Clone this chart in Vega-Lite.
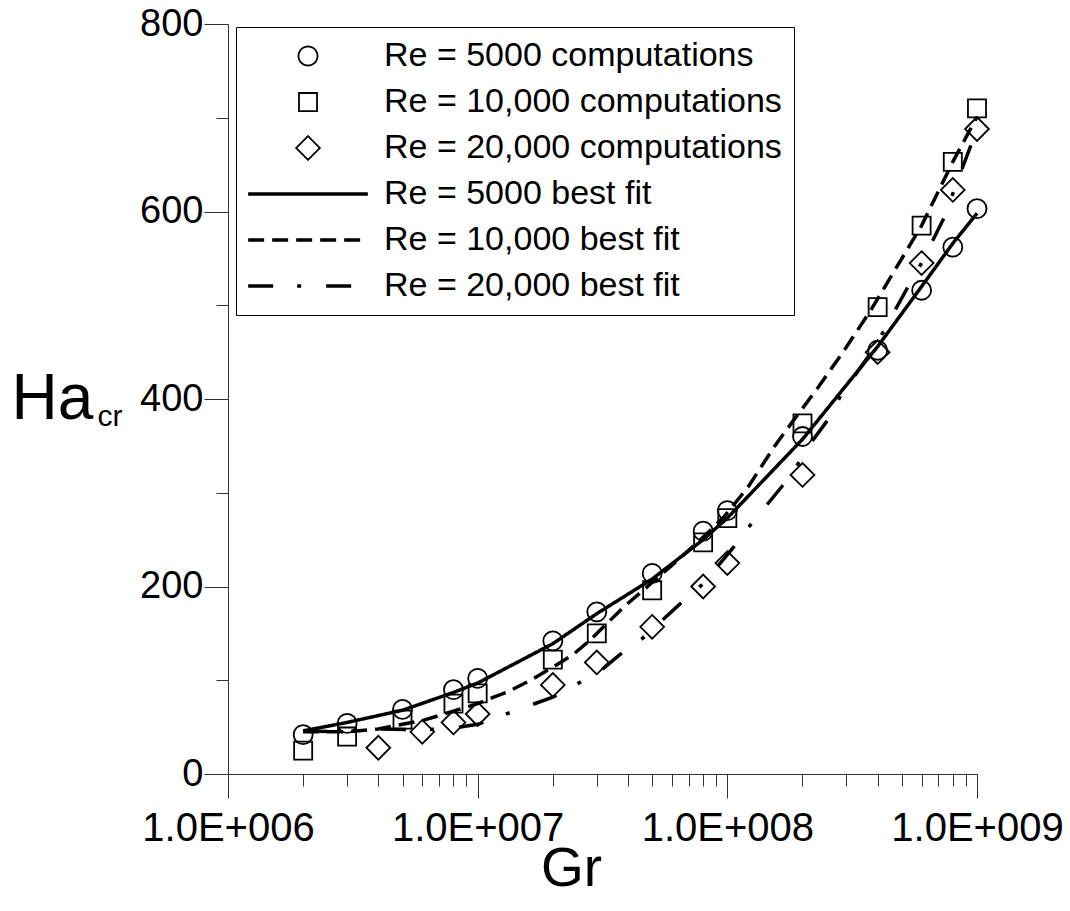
{
  "$schema": "https://vega.github.io/schema/vega-lite/v6.json",
  "width": 749,
  "height": 750,
  "autosize": {"type": "none"},
  "padding": {"left": 228, "top": 24, "right": 93, "bottom": 137},
  "background": "white",
  "config": {
    "view": {"stroke": null},
    "font": "Liberation Sans",
    "legend": {
      "padding": 12,
      "strokeColor": "black",
      "strokeWidth": 1,
      "fillColor": "white",
      "symbolSize": 361,
      "symbolOffset": 43,
      "labelOffset": 59,
      "labelFontSize": 34,
      "labelFont": "Liberation Sans",
      "labelColor": "black",
      "rowPadding": 12,
      "labelLimit": 800,
      "symbolLimit": 10
    }
  },
  "data": {
    "values": [
      {"Gr": 2000000, "Ha": 42, "series": "Re = 5000 computations", "kind": "comp"},
      {"Gr": 3000000, "Ha": 54, "series": "Re = 5000 computations", "kind": "comp"},
      {"Gr": 5000000, "Ha": 69, "series": "Re = 5000 computations", "kind": "comp"},
      {"Gr": 8000000, "Ha": 90, "series": "Re = 5000 computations", "kind": "comp"},
      {"Gr": 10000000, "Ha": 102, "series": "Re = 5000 computations", "kind": "comp"},
      {"Gr": 20000000, "Ha": 142, "series": "Re = 5000 computations", "kind": "comp"},
      {"Gr": 30000000, "Ha": 173, "series": "Re = 5000 computations", "kind": "comp"},
      {"Gr": 50000000, "Ha": 214, "series": "Re = 5000 computations", "kind": "comp"},
      {"Gr": 80000000, "Ha": 259, "series": "Re = 5000 computations", "kind": "comp"},
      {"Gr": 100000000, "Ha": 281, "series": "Re = 5000 computations", "kind": "comp"},
      {"Gr": 200000000, "Ha": 360, "series": "Re = 5000 computations", "kind": "comp"},
      {"Gr": 400000000, "Ha": 452, "series": "Re = 5000 computations", "kind": "comp"},
      {"Gr": 600000000, "Ha": 516, "series": "Re = 5000 computations", "kind": "comp"},
      {"Gr": 800000000, "Ha": 562, "series": "Re = 5000 computations", "kind": "comp"},
      {"Gr": 1000000000, "Ha": 603, "series": "Re = 5000 computations", "kind": "comp"},

      {"Gr": 2000000, "Ha": 25, "series": "Re = 10,000 computations", "kind": "comp"},
      {"Gr": 3000000, "Ha": 40, "series": "Re = 10,000 computations", "kind": "comp"},
      {"Gr": 5000000, "Ha": 58, "series": "Re = 10,000 computations", "kind": "comp"},
      {"Gr": 8000000, "Ha": 75, "series": "Re = 10,000 computations", "kind": "comp"},
      {"Gr": 10000000, "Ha": 86, "series": "Re = 10,000 computations", "kind": "comp"},
      {"Gr": 20000000, "Ha": 122, "series": "Re = 10,000 computations", "kind": "comp"},
      {"Gr": 30000000, "Ha": 150, "series": "Re = 10,000 computations", "kind": "comp"},
      {"Gr": 50000000, "Ha": 196, "series": "Re = 10,000 computations", "kind": "comp"},
      {"Gr": 80000000, "Ha": 247, "series": "Re = 10,000 computations", "kind": "comp"},
      {"Gr": 100000000, "Ha": 273, "series": "Re = 10,000 computations", "kind": "comp"},
      {"Gr": 200000000, "Ha": 374, "series": "Re = 10,000 computations", "kind": "comp"},
      {"Gr": 400000000, "Ha": 498, "series": "Re = 10,000 computations", "kind": "comp"},
      {"Gr": 600000000, "Ha": 585, "series": "Re = 10,000 computations", "kind": "comp"},
      {"Gr": 800000000, "Ha": 653, "series": "Re = 10,000 computations", "kind": "comp"},
      {"Gr": 1000000000, "Ha": 710, "series": "Re = 10,000 computations", "kind": "comp"},

      {"Gr": 4000000, "Ha": 28, "series": "Re = 20,000 computations", "kind": "comp"},
      {"Gr": 6000000, "Ha": 45, "series": "Re = 20,000 computations", "kind": "comp"},
      {"Gr": 8000000, "Ha": 55, "series": "Re = 20,000 computations", "kind": "comp"},
      {"Gr": 10000000, "Ha": 64, "series": "Re = 20,000 computations", "kind": "comp"},
      {"Gr": 20000000, "Ha": 95, "series": "Re = 20,000 computations", "kind": "comp"},
      {"Gr": 30000000, "Ha": 119, "series": "Re = 20,000 computations", "kind": "comp"},
      {"Gr": 50000000, "Ha": 157, "series": "Re = 20,000 computations", "kind": "comp"},
      {"Gr": 80000000, "Ha": 200, "series": "Re = 20,000 computations", "kind": "comp"},
      {"Gr": 100000000, "Ha": 225, "series": "Re = 20,000 computations", "kind": "comp"},
      {"Gr": 200000000, "Ha": 319, "series": "Re = 20,000 computations", "kind": "comp"},
      {"Gr": 400000000, "Ha": 450, "series": "Re = 20,000 computations", "kind": "comp"},
      {"Gr": 600000000, "Ha": 545, "series": "Re = 20,000 computations", "kind": "comp"},
      {"Gr": 800000000, "Ha": 623, "series": "Re = 20,000 computations", "kind": "comp"},
      {"Gr": 1000000000, "Ha": 688, "series": "Re = 20,000 computations", "kind": "comp"},

      {"Gr": 2000000, "Ha": 46, "series": "Re = 5000 best fit", "kind": "fit"},
      {"Gr": 3000000, "Ha": 55, "series": "Re = 5000 best fit", "kind": "fit"},
      {"Gr": 5000000, "Ha": 68, "series": "Re = 5000 best fit", "kind": "fit"},
      {"Gr": 8000000, "Ha": 87, "series": "Re = 5000 best fit", "kind": "fit"},
      {"Gr": 10000000, "Ha": 97, "series": "Re = 5000 best fit", "kind": "fit"},
      {"Gr": 20000000, "Ha": 139, "series": "Re = 5000 best fit", "kind": "fit"},
      {"Gr": 30000000, "Ha": 171, "series": "Re = 5000 best fit", "kind": "fit"},
      {"Gr": 50000000, "Ha": 208, "series": "Re = 5000 best fit", "kind": "fit"},
      {"Gr": 80000000, "Ha": 250, "series": "Re = 5000 best fit", "kind": "fit"},
      {"Gr": 100000000, "Ha": 273, "series": "Re = 5000 best fit", "kind": "fit"},
      {"Gr": 200000000, "Ha": 357, "series": "Re = 5000 best fit", "kind": "fit"},
      {"Gr": 400000000, "Ha": 456, "series": "Re = 5000 best fit", "kind": "fit"},
      {"Gr": 600000000, "Ha": 520, "series": "Re = 5000 best fit", "kind": "fit"},
      {"Gr": 800000000, "Ha": 566, "series": "Re = 5000 best fit", "kind": "fit"},
      {"Gr": 1000000000, "Ha": 598, "series": "Re = 5000 best fit", "kind": "fit"},

      {"Gr": 2000000, "Ha": 45, "series": "Re = 10,000 best fit", "kind": "fit"},
      {"Gr": 3000000, "Ha": 45, "series": "Re = 10,000 best fit", "kind": "fit"},
      {"Gr": 4000000, "Ha": 48, "series": "Re = 10,000 best fit", "kind": "fit"},
      {"Gr": 5000000, "Ha": 53, "series": "Re = 10,000 best fit", "kind": "fit"},
      {"Gr": 6000000, "Ha": 57, "series": "Re = 10,000 best fit", "kind": "fit"},
      {"Gr": 8000000, "Ha": 67, "series": "Re = 10,000 best fit", "kind": "fit"},
      {"Gr": 10000000, "Ha": 75, "series": "Re = 10,000 best fit", "kind": "fit"},
      {"Gr": 11600000, "Ha": 82, "series": "Re = 10,000 best fit", "kind": "fit"},
      {"Gr": 13300000, "Ha": 88, "series": "Re = 10,000 best fit", "kind": "fit"},
      {"Gr": 16300000, "Ha": 100, "series": "Re = 10,000 best fit", "kind": "fit"},
      {"Gr": 20000000, "Ha": 114, "series": "Re = 10,000 best fit", "kind": "fit"},
      {"Gr": 24000000, "Ha": 127, "series": "Re = 10,000 best fit", "kind": "fit"},
      {"Gr": 28000000, "Ha": 142, "series": "Re = 10,000 best fit", "kind": "fit"},
      {"Gr": 38400000, "Ha": 178, "series": "Re = 10,000 best fit", "kind": "fit"},
      {"Gr": 49300000, "Ha": 203, "series": "Re = 10,000 best fit", "kind": "fit"},
      {"Gr": 63200000, "Ha": 228, "series": "Re = 10,000 best fit", "kind": "fit"},
      {"Gr": 78200000, "Ha": 250, "series": "Re = 10,000 best fit", "kind": "fit"},
      {"Gr": 96800000, "Ha": 274, "series": "Re = 10,000 best fit", "kind": "fit"},
      {"Gr": 121000000, "Ha": 306, "series": "Re = 10,000 best fit", "kind": "fit"},
      {"Gr": 154000000, "Ha": 349, "series": "Re = 10,000 best fit", "kind": "fit"},
      {"Gr": 185000000, "Ha": 378, "series": "Re = 10,000 best fit", "kind": "fit"},
      {"Gr": 232000000, "Ha": 413, "series": "Re = 10,000 best fit", "kind": "fit"},
      {"Gr": 294000000, "Ha": 452, "series": "Re = 10,000 best fit", "kind": "fit"},
      {"Gr": 376000000, "Ha": 495, "series": "Re = 10,000 best fit", "kind": "fit"},
      {"Gr": 600000000, "Ha": 585, "series": "Re = 10,000 best fit", "kind": "fit"},
      {"Gr": 800000000, "Ha": 653, "series": "Re = 10,000 best fit", "kind": "fit"},
      {"Gr": 1000000000, "Ha": 701, "series": "Re = 10,000 best fit", "kind": "fit"},

      {"Gr": 2000000, "Ha": 46, "series": "Re = 20,000 best fit", "kind": "fit"},
      {"Gr": 3000000, "Ha": 45, "series": "Re = 20,000 best fit", "kind": "fit"},
      {"Gr": 4000000, "Ha": 48, "series": "Re = 20,000 best fit", "kind": "fit"},
      {"Gr": 6000000, "Ha": 47, "series": "Re = 20,000 best fit", "kind": "fit"},
      {"Gr": 8000000, "Ha": 49, "series": "Re = 20,000 best fit", "kind": "fit"},
      {"Gr": 10000000, "Ha": 53, "series": "Re = 20,000 best fit", "kind": "fit"},
      {"Gr": 20000000, "Ha": 82, "series": "Re = 20,000 best fit", "kind": "fit"},
      {"Gr": 25000000, "Ha": 96, "series": "Re = 20,000 best fit", "kind": "fit"},
      {"Gr": 31000000, "Ha": 110, "series": "Re = 20,000 best fit", "kind": "fit"},
      {"Gr": 37000000, "Ha": 127, "series": "Re = 20,000 best fit", "kind": "fit"},
      {"Gr": 45000000, "Ha": 143, "series": "Re = 20,000 best fit", "kind": "fit"},
      {"Gr": 65000000, "Ha": 182, "series": "Re = 20,000 best fit", "kind": "fit"},
      {"Gr": 80000000, "Ha": 203, "series": "Re = 20,000 best fit", "kind": "fit"},
      {"Gr": 106000000, "Ha": 242, "series": "Re = 20,000 best fit", "kind": "fit"},
      {"Gr": 124000000, "Ha": 266, "series": "Re = 20,000 best fit", "kind": "fit"},
      {"Gr": 167000000, "Ha": 308, "series": "Re = 20,000 best fit", "kind": "fit"},
      {"Gr": 192000000, "Ha": 331, "series": "Re = 20,000 best fit", "kind": "fit"},
      {"Gr": 220000000, "Ha": 356, "series": "Re = 20,000 best fit", "kind": "fit"},
      {"Gr": 253000000, "Ha": 378, "series": "Re = 20,000 best fit", "kind": "fit"},
      {"Gr": 285000000, "Ha": 404, "series": "Re = 20,000 best fit", "kind": "fit"},
      {"Gr": 387000000, "Ha": 454, "series": "Re = 20,000 best fit", "kind": "fit"},
      {"Gr": 520000000, "Ha": 516, "series": "Re = 20,000 best fit", "kind": "fit"},
      {"Gr": 600000000, "Ha": 545, "series": "Re = 20,000 best fit", "kind": "fit"},
      {"Gr": 740000000, "Ha": 594, "series": "Re = 20,000 best fit", "kind": "fit"},
      {"Gr": 810000000, "Ha": 623, "series": "Re = 20,000 best fit", "kind": "fit"},
      {"Gr": 1000000000, "Ha": 688, "series": "Re = 20,000 best fit", "kind": "fit"},

      {"label": "cr", "kind": "note"}
    ]
  },
  "layer": [
    {
      "transform": [{"filter": "datum.kind === 'fit'"}],
      "mark": {"type": "line", "color": "black", "interpolate": "linear"},
      "encoding": {
        "x": {
          "field": "Gr", "type": "quantitative",
          "scale": {"type": "log", "domain": [1000000, 1000000000], "nice": false},
          "axis": {
            "title": "Gr",
            "titleFontSize": 55, "titleFontWeight": "normal", "titleColor": "black", "titleFont": "Liberation Sans",
            "titleX": 343, "titleY": 111, "titleAlign": "center", "titleBaseline": "alphabetic",
            "values": [1000000, 2000000, 3000000, 4000000, 5000000, 6000000, 7000000, 8000000, 9000000,
                       10000000, 20000000, 30000000, 40000000, 50000000, 60000000, 70000000, 80000000, 90000000,
                       100000000, 200000000, 300000000, 400000000, 500000000, 600000000, 700000000, 800000000, 900000000, 1000000000],
            "labelExpr": "datum.value == 1000000 ? '1.0E+006' : datum.value == 10000000 ? '1.0E+007' : datum.value == 100000000 ? '1.0E+008' : datum.value == 1000000000 ? '1.0E+009' : ''",
            "labelFontSize": 40, "labelColor": "black", "labelFont": "Liberation Sans",
            "labelOverlap": false, "labelFlush": false, "labelPadding": 10, "labelBaseline": "top",
            "tickSize": {"condition": {"test": "indexof([1000000, 10000000, 100000000, 1000000000], datum.value) >= 0", "value": 24}, "value": 12},
            "tickColor": "#333", "tickWidth": 1,
            "domainColor": "#333", "domainWidth": 1,
            "grid": false
          }
        },
        "y": {
          "field": "Ha", "type": "quantitative",
          "scale": {"domain": [0, 800], "nice": false, "zero": true},
          "axis": {
            "title": "Ha",
            "titleFontSize": 64, "titleFontWeight": "normal", "titleColor": "black", "titleFont": "Liberation Sans",
            "titleAngle": 0, "titleX": -217, "titleY": 394, "titleAlign": "left", "titleBaseline": "alphabetic",
            "values": [0, 100, 200, 300, 400, 500, 600, 700, 800],
            "labelExpr": "datum.value % 200 == 0 ? datum.label : ''",
            "labelFontSize": 38, "labelColor": "black", "labelFont": "Liberation Sans",
            "labelOverlap": false, "labelFlush": false, "labelPadding": 1,
            "tickSize": {"condition": {"test": "datum.value % 200 == 0", "value": 24}, "value": 12},
            "tickColor": "#333", "tickWidth": 1,
            "domainColor": "#333", "domainWidth": 1,
            "grid": false
          }
        },
        "strokeDash": {
          "field": "series", "type": "nominal",
          "scale": {
            "domain": ["Re = 5000 computations", "Re = 10,000 computations", "Re = 20,000 computations", "Re = 5000 best fit", "Re = 10,000 best fit", "Re = 20,000 best fit"],
            "range": [[1, 0], [1, 0], [1, 0], [1, 0], [16, 8], [25, 24, 4, 25]]
          },
          "legend": {"title": null, "orient": "none", "legendX": 8, "legendY": 3}
        },
        "strokeWidth": {
          "field": "series", "type": "nominal",
          "scale": {
            "type": "ordinal",
            "domain": ["Re = 5000 computations", "Re = 10,000 computations", "Re = 20,000 computations", "Re = 5000 best fit", "Re = 10,000 best fit", "Re = 20,000 best fit"],
            "range": [1.8, 1.8, 1.8, 3.5, 3.5, 3.5]
          },
          "legend": {"title": null, "orient": "none", "legendX": 8, "legendY": 3}
        },
        "detail": {"field": "series"}
      }
    },
    {
      "transform": [{"filter": "datum.kind === 'comp'"}],
      "mark": {"type": "point", "filled": false, "color": "black", "size": 361, "opacity": 1},
      "encoding": {
        "x": {"field": "Gr", "type": "quantitative"},
        "y": {"field": "Ha", "type": "quantitative"},
        "shape": {
          "field": "series", "type": "nominal",
          "scale": {
            "domain": ["Re = 5000 computations", "Re = 10,000 computations", "Re = 20,000 computations", "Re = 5000 best fit", "Re = 10,000 best fit", "Re = 20,000 best fit"],
            "range": ["circle", "M-0.95,-0.95H0.95V0.95H-0.95Z", "M-1.25,0L0,-1.25L1.25,0L0,1.25Z", "M-6.3,0H6.3", "M-6.3,0H6.3", "M-6.3,0H6.3"]
          },
          "legend": {"title": null, "orient": "none", "legendX": 8, "legendY": 3}
        },
        "strokeWidth": {
          "field": "series", "type": "nominal",
          "scale": {
            "type": "ordinal",
            "domain": ["Re = 5000 computations", "Re = 10,000 computations", "Re = 20,000 computations", "Re = 5000 best fit", "Re = 10,000 best fit", "Re = 20,000 best fit"],
            "range": [1.8, 1.8, 1.8, 3.5, 3.5, 3.5]
          },
          "legend": {"title": null, "orient": "none", "legendX": 8, "legendY": 3}
        }
      }
    },
    {
      "transform": [{"filter": "datum.kind === 'note'"}],
      "mark": {"type": "text", "fontSize": 30, "font": "Liberation Sans", "color": "black", "align": "left", "baseline": "alphabetic"},
      "encoding": {
        "x": {"datum": 300000, "type": "quantitative"},
        "y": {"datum": 371, "type": "quantitative"},
        "text": {"field": "label"}
      }
    }
  ]
}
